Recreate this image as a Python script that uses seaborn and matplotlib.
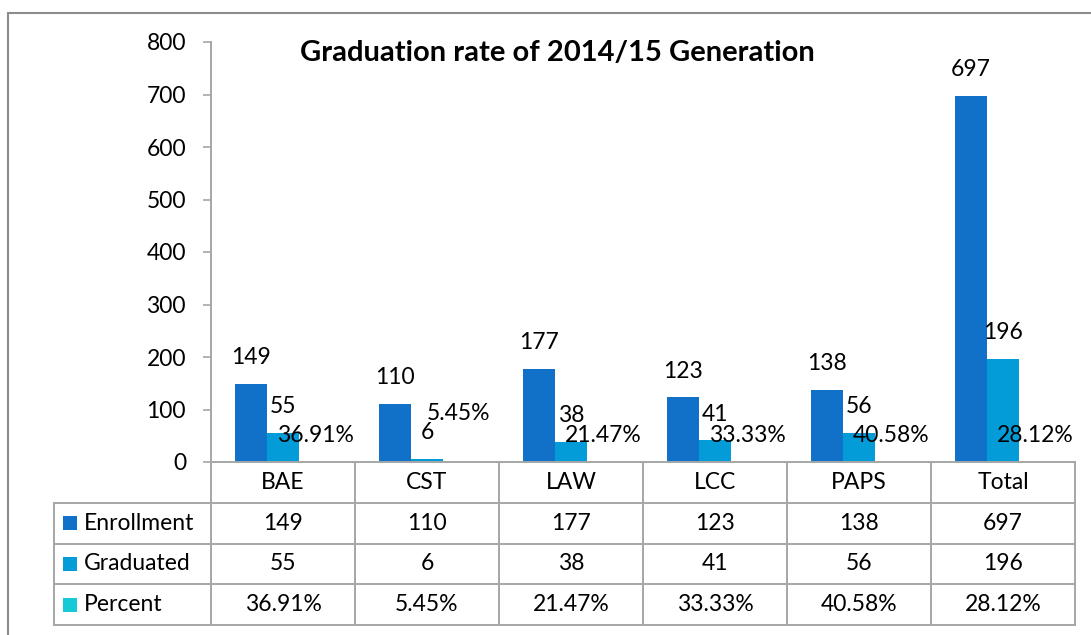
import matplotlib
matplotlib.use("Agg")
import matplotlib.pyplot as plt
import seaborn as sns
import pandas as pd
from matplotlib.patches import Rectangle

categories = ["BAE", "CST", "LAW", "LCC", "PAPS", "Total"]
enrollment = [149, 110, 177, 123, 138, 697]
graduated = [55, 6, 38, 41, 56, 196]
percent = [0.3691, 0.0545, 0.2147, 0.3333, 0.4058, 0.2812]
series_names = ["Enrollment", "Graduated", "Percent"]
y_ticks = [0, 100, 200, 300, 400, 500, 600, 700, 800]
title = "Graduation rate of 2014/15 Generation"

colors = ["#1170C8", "#039CD8", "#15CAD6"]
grid_color = "#A6A6A6"
FS = 16.5

sns.set_theme(style="white")
plt.rcParams["font.family"] = ["Lato", "DejaVu Sans"]

series_values = [enrollment, graduated, percent]
df = pd.DataFrame({
    "category": categories * 3,
    "series": [s for s in series_names for _ in categories],
    "value": enrollment + graduated + percent,
})

def fmt(series, v):
    if series == "Percent":
        return f"{v * 100:.2f}%"
    return f"{v:g}"

W, H = 1091, 635
fig = plt.figure(figsize=(W / 100, H / 100), dpi=100)
ax = fig.add_axes([211 / W, 1 - 462 / H, 864 / W, 420 / H])
sns.barplot(data=df, x="category", y="value", hue="series", order=categories,
            hue_order=series_names, palette=colors, width=0.667, linewidth=0,
            saturation=1, errorbar=None, legend=False, ax=ax)

extra_offset = {("Percent", "CST"): 16}
for s_name, cont in zip(series_names, ax.containers):
    for cat, bar, v in zip(categories, cont, series_values[series_names.index(s_name)]):
        cx = bar.get_x() + bar.get_width() / 2
        top = bar.get_height()
        off = 19 + extra_offset.get((s_name, cat), 0)
        ax.annotate(fmt(s_name, v), (cx, top), xytext=(0, off), textcoords="offset points",
                    ha="center", va="center", fontsize=FS, color="black")

ax.set_xlim(-0.5, 5.5)
ax.set_ylim(0, 800)
ax.set_yticks(y_ticks)
ax.set_xticks([])
ax.set_xlabel("")
ax.set_ylabel("")
ax.tick_params(axis="y", left=True, length=6, width=1.2, color=grid_color, pad=12,
               labelsize=FS, labelcolor="black")
for sp in ["top", "right"]:
    ax.spines[sp].set_visible(False)
for sp in ["left", "bottom"]:
    ax.spines[sp].set_color(grid_color)
    ax.spines[sp].set_linewidth(1.4)

fig.text(557 / W, 1 - 53 / H, title, ha="center", va="center", fontsize=21,
         fontweight="bold", color="black")

# Data table
tax = fig.add_axes([211 / W, 1 - 625 / H, 864 / W, 163 / H])
tax.set_xlim(-0.5, 5.5)
tax.set_ylim(4, 0)
tax.axis("off")
left_x = -0.5 - (211 - 54) / 144
lw = 1.4
for i in range(len(categories) + 1):
    tax.plot([-0.5 + i, -0.5 + i], [0, 4], color=grid_color, lw=lw, clip_on=False,
             solid_capstyle="projecting")
tax.plot([left_x, left_x], [1, 4], color=grid_color, lw=lw, clip_on=False,
         solid_capstyle="projecting")
for r in range(1, 5):
    tax.plot([left_x, 5.5], [r, r], color=grid_color, lw=lw, clip_on=False,
             solid_capstyle="projecting")
for i, c in enumerate(categories):
    tax.text(i, 0.5, c, ha="center", va="center", fontsize=FS, color="black")
for r, (s_name, vals) in enumerate(zip(series_names, series_values)):
    y = r + 1.5
    for i, v in enumerate(vals):
        tax.text(i, y, fmt(s_name, v), ha="center", va="center", fontsize=FS, color="black")
    sq_w = 14 / 144
    sq_h = 14 / 41
    tax.add_patch(Rectangle((left_x + 9 / 144, y - sq_h / 2), sq_w, sq_h,
                            facecolor=colors[r], edgecolor="none", clip_on=False))
    tax.text(left_x + 30 / 144, y, s_name, ha="left", va="center", fontsize=FS, color="black")

# Outer chart border
fig.patches.append(Rectangle((8 / W, -0.1), 1.2, 1 - 13 / H + 0.1, transform=fig.transFigure,
                             fill=False, edgecolor="#8C8C8C", lw=1.5))

fig.savefig("out.png", dpi=100)
